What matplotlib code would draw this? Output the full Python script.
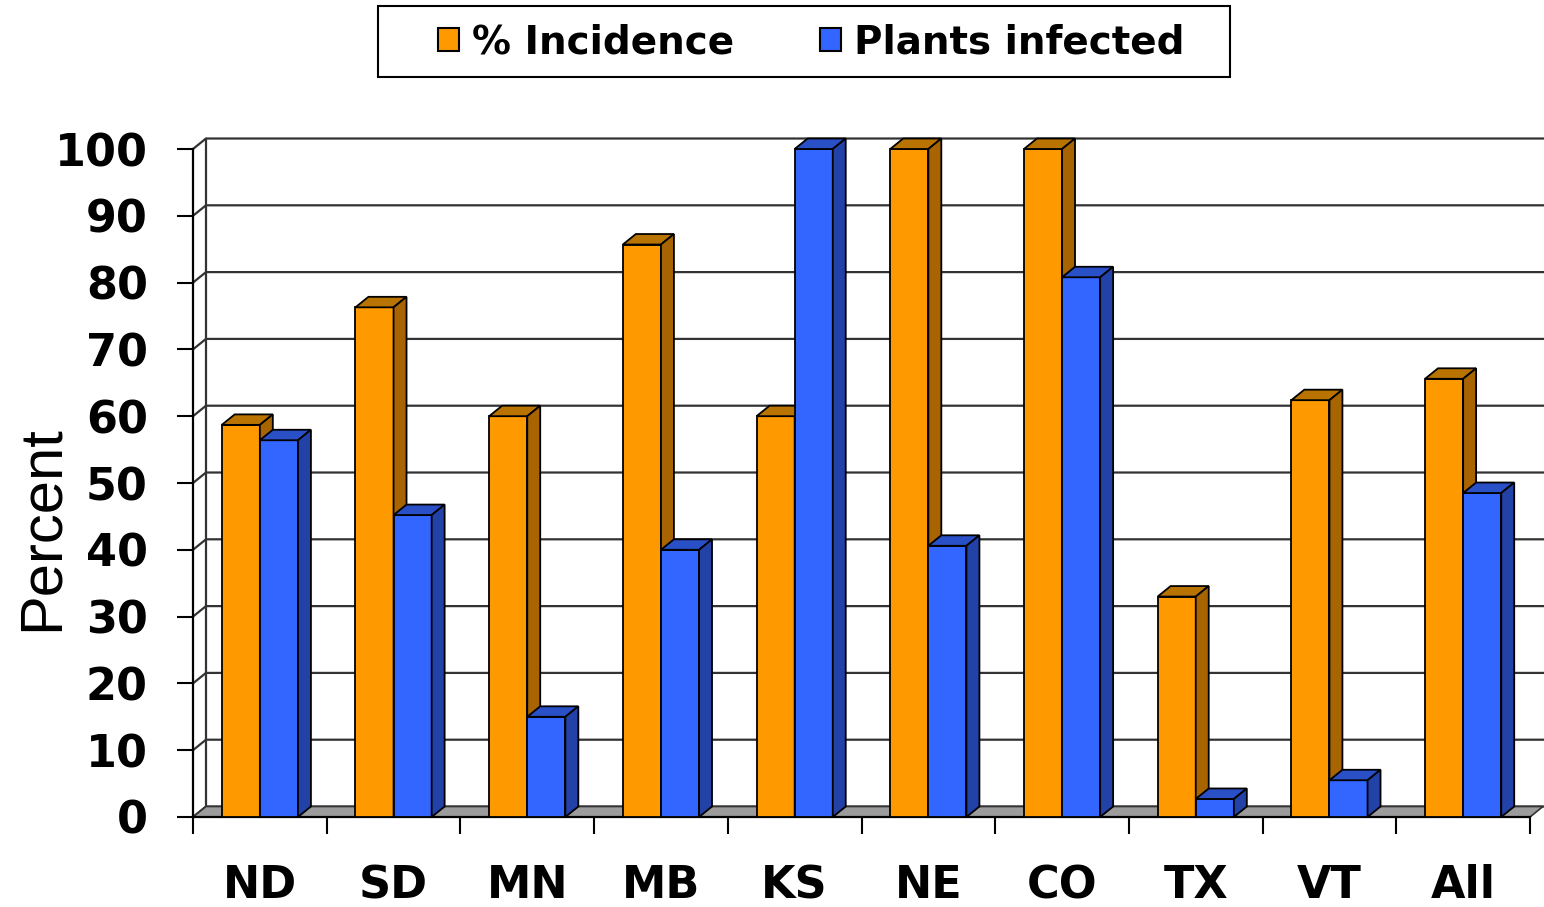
import numpy as np
import matplotlib.pyplot as plt
from matplotlib.patches import Polygon, Patch, Rectangle

plt.rcParams['font.family'] = 'DejaVu Sans'
plt.rcParams['font.weight'] = 'bold'

states = ['ND', 'SD', 'MN', 'MB', 'KS', 'NE', 'CO', 'TX', 'VT', 'All']
incidence = [58.7, 76.3, 60, 85.7, 60, 100, 100, 33, 62.4, 65.6]
infected = [56.4, 45.2, 15, 40, 100, 40.6, 80.8, 2.7, 5.5, 48.5]
series_names = ['% Incidence', 'Plants infected']

# front / top / side shades for the fake 3d look
orange = ('#ff9900', '#b87300', '#a86400')
blue = ('#3366ff', '#2a50c8', '#2242a8')

dx, dy = 0.097, 1.57   # depth offset in data units
w = 0.285
x = np.arange(len(states))

fig = plt.figure(figsize=(15.44, 9.07), dpi=100)
ax = fig.add_axes([193/1544, 90/907, 1337/1544, 668/907])
ax.set_xlim(-0.5, len(states) - 0.5)
ax.set_ylim(0, 100)

# back wall gridlines + left wall
for v in range(0, 101, 10):
    ax.plot([-0.5, -0.5 + dx, len(states) - 0.5 + dx], [v, v + dy, v + dy],
            color='#333333', lw=1.6, clip_on=False, zorder=0.5)
ax.plot([-0.5 + dx, -0.5 + dx], [dy, 100 + dy], color='#333333', lw=1.6,
        clip_on=False, zorder=0.5)

# floor
xr = len(states) - 0.5
ax.add_patch(Polygon([(-0.5, 0), (xr, 0), (xr + dx, dy), (-0.5 + dx, dy)],
                     closed=True, fc='#9c9c9c', ec='#333333', lw=1.2,
                     clip_on=False, zorder=1))

for k, (vals, cols) in enumerate([(incidence, orange), (infected, blue)]):
    lefts = x - w + k * w
    ax.bar(lefts, vals, width=w, align='edge', color=cols[0],
           edgecolor='black', linewidth=1.3, zorder=3, clip_on=False)
    for x0, v in zip(lefts, vals):
        x1 = x0 + w
        ax.add_patch(Polygon([(x0, v), (x1, v), (x1 + dx, v + dy), (x0 + dx, v + dy)],
                             closed=True, fc=cols[1], ec='black', lw=1.3,
                             clip_on=False, zorder=3))
        ax.add_patch(Polygon([(x1, 0), (x1, v), (x1 + dx, v + dy), (x1 + dx, dy)],
                             closed=True, fc=cols[2], ec='black', lw=1.3,
                             clip_on=False, zorder=3))

for s in ['top', 'right']:
    ax.spines[s].set_visible(False)
for s in ['left', 'bottom']:
    ax.spines[s].set_color('black')
    ax.spines[s].set_linewidth(1.6)
ax.patch.set_visible(False)

ax.set_yticks(range(0, 101, 10))
ax.tick_params(axis='y', length=11.5, width=1.5, pad=21, labelsize=32)
ax.set_xticks(np.arange(-0.5, len(states), 1))
ax.set_xticklabels([])
ax.set_xticks(x, minor=True)
ax.set_xticklabels(states, minor=True)
ax.tick_params(axis='x', which='major', length=12, width=1.5)
ax.tick_params(axis='x', which='minor', length=0, pad=34, labelsize=32)

ax.set_ylabel('Percent', fontsize=43, fontweight='normal', family='Liberation Sans')
ax.yaxis.set_label_coords(-0.092, 0.433)

handles = [Patch(fc=orange[0], ec='black', lw=1.5),
           Patch(fc=blue[0], ec='black', lw=1.5)]
fig.legend(handles, series_names, loc='center', ncol=2,
           bbox_to_anchor=(811/1544, 1 - 42/907), frameon=False,
           prop={'size': 28, 'weight': 'bold'}, handlelength=0.55,
           handleheight=0.55, handletextpad=0.33, columnspacing=2.2)
fig.add_artist(Rectangle((378/1544, 1 - 77/907), 852/1544, 71/907,
                         transform=fig.transFigure, fill=False,
                         ec='black', lw=1.5))

fig.savefig('out.png', dpi=100, facecolor='white')
